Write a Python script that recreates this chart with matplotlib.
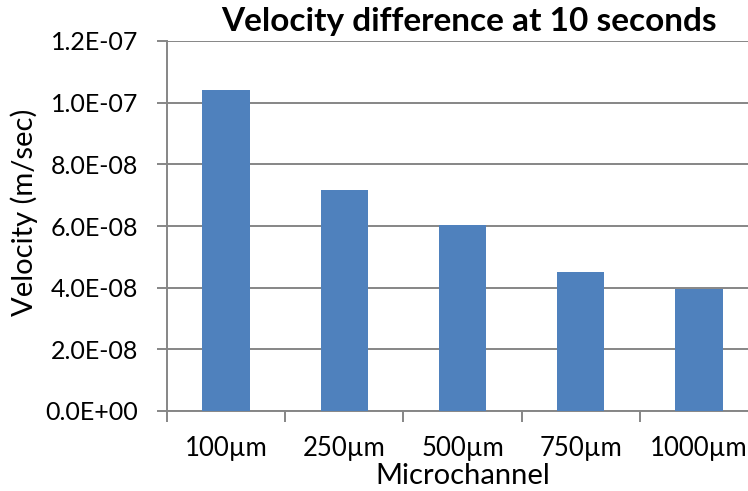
import matplotlib.pyplot as plt
from matplotlib.ticker import FixedLocator, FuncFormatter

channels = ["100µm", "250µm", "500µm", "750µm", "1000µm"]
velocity = [1.04e-7, 7.18e-8, 6.04e-8, 4.52e-8, 3.95e-8]
y_ticks = [0.0, 2e-8, 4e-8, 6e-8, 8e-8, 1e-7, 1.2e-7]

plt.rcParams["font.family"] = ["Lato", "DejaVu Sans"]

grid_color = "#868686"

fig = plt.figure(figsize=(7.48, 4.91), dpi=100)
ax = fig.add_axes([167 / 748, 80 / 491, 591 / 748, 370 / 491])

x = list(range(len(channels)))
ax.bar(x, velocity, width=0.4, color="#4F81BD", zorder=3)

ax.set_xlim(-0.5, len(channels) - 0.5)
ax.set_ylim(0, 1.2e-7)
ax.yaxis.set_major_locator(FixedLocator(y_ticks))
ax.yaxis.set_major_formatter(FuncFormatter(lambda v, _: f"{v:.1E}"))
ax.grid(axis="y", color=grid_color, linewidth=1.4, zorder=0)

# category labels sit centred, tick marks go on the category boundaries
ax.set_xticks(x)
ax.set_xticklabels(channels, fontsize=18.5)
ax.tick_params(axis="x", length=0, pad=18)
ax.set_xticks([i - 0.5 for i in range(len(channels) + 1)], minor=True)
ax.tick_params(axis="x", which="minor", length=8, width=1.4, color=grid_color)
ax.tick_params(axis="y", length=7, width=1.4, color=grid_color, labelsize=18, pad=14)

for side in ("top", "right"):
    ax.spines[side].set_visible(False)
for side in ("left", "bottom"):
    ax.spines[side].set_color(grid_color)
    ax.spines[side].set_linewidth(1.4)

fig.text(463 / 748, 1 - 484 / 491, "Microchannel", fontsize=21,
         ha="center", va="baseline")
fig.text(24 / 748, 1 - 212 / 491, "Velocity (m/sec)", rotation=90,
         fontsize=21, ha="center", va="center")
fig.text(469 / 748, 1 - 22 / 491, "Velocity difference at 10 seconds",
         fontsize=24, fontweight="bold", ha="center", va="center")

fig.savefig("out.png", dpi=100)
